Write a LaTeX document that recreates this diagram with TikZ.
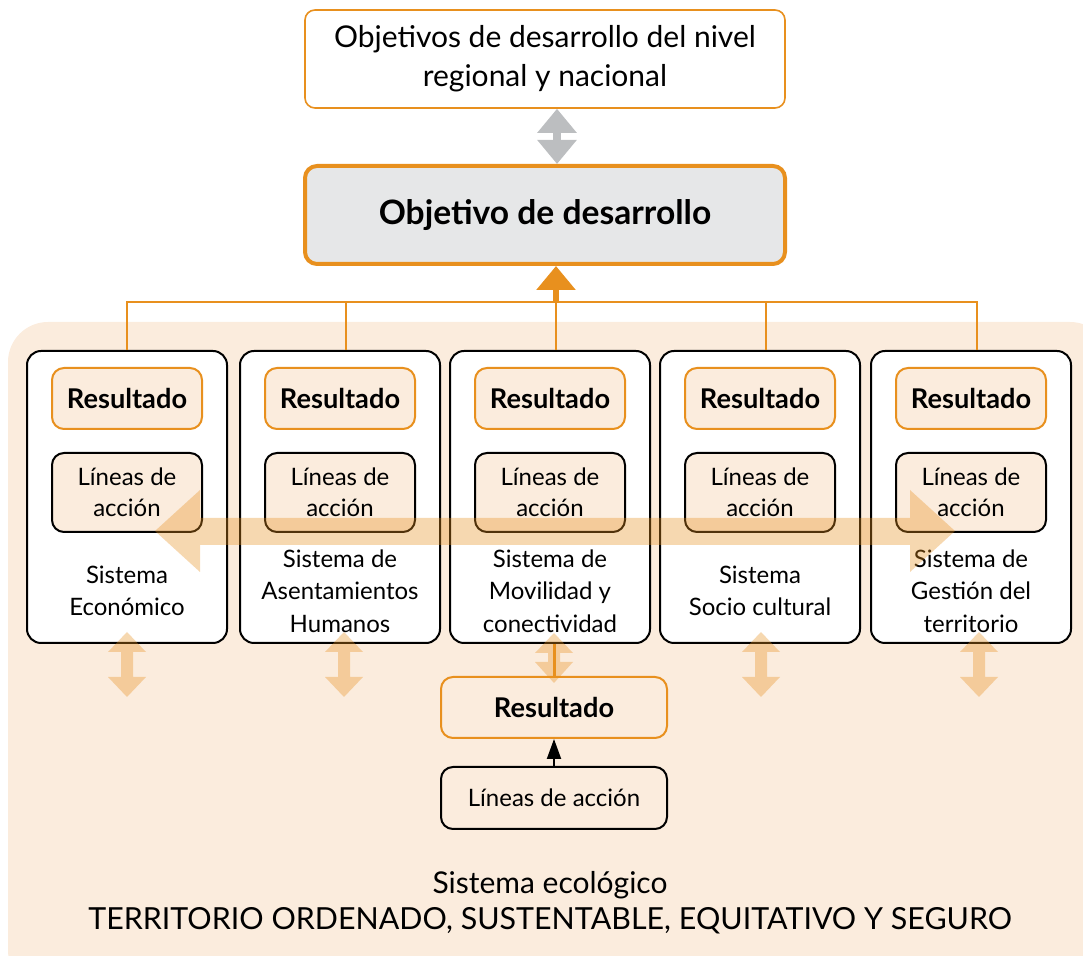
\documentclass[tikz,border=0pt]{standalone}
\usepackage{fontspec}
\setmainfont{Lato}
\usetikzlibrary{arrows.meta,positioning,calc}
\definecolor{naranja}{HTML}{E8901E}
\definecolor{crema}{HTML}{FBECDD}
\definecolor{grisclaro}{HTML}{E6E7E8}
\definecolor{gris}{HTML}{BCBEC0}
\tikzset{
  every picture/.style = {
    x = 0.5pt,
    y = -0.5pt,
    node distance = 11pt and 6pt,
  }
  ,
  objetivo/.style = {
    rectangle,
    rounded corners = 5pt,
    draw = naranja,
    line width = 0.8pt,
    fill = white,
    align = center,
    minimum width = 240pt,
    minimum height = 49pt,
    font = \fontsize{15}{19.5}\selectfont
  }
  , % box of the main goal
  objetivo-main/.style = {
    objetivo,
    rounded corners = 6pt,
    line width = 2pt,
    fill = grisclaro,
    font = \bfseries\fontsize{16.8}{20}\selectfont
  }
  ,
  sistema/.style = {
    rectangle,
    rounded corners = 7pt,
    draw,
    line width = 1pt,
    fill = white,
    minimum width = 100pt,
    minimum height = 146pt
  }
  ,
  resultado/.style = {
    rectangle,
    rounded corners = 6pt,
    draw = naranja,
    line width = 1pt,
    fill = crema,
    minimum width = 75pt,
    minimum height = 30.5pt,
    inner sep = 0pt,
    font = \bfseries\fontsize{13.6}{16}\selectfont
  }
  ,
  lineas/.style = {
    rectangle,
    rounded corners = 6pt,
    draw,
    line width = 1pt,
    fill = crema,
    align = center,
    minimum width = 75pt,
    minimum height = 39.5pt,
    inner sep = 0pt,
    font = \fontsize{12}{15.5}\selectfont
  }
  , % names of the systems
  label-sistema/.style = {
    align = center,
    font = \fontsize{12}{16.25}\selectfont
  }
  ,
  tenue/.style = {
    fill = naranja,
    fill opacity = 0.35
  }
}

\begin{document}
\begin{tikzpicture}
    \useasboundingbox (0,0) rectangle (1083,956);
    % background of the ecological system
    \fill[crema, rounded corners=20pt] (8,322) rectangle (1110,990);

    \node [objetivo] (top) at (545,59) {Objetivos de desarrollo del nivel\\regional y nacional};
    \node [objetivo-main] (main) at (545,215) {Objetivo de desarrollo};
    \draw [gris, line width=4pt, {Triangle[width=19pt,length=12pt]}-{Triangle[width=19pt,length=12pt]}]
        ([xshift=6pt]top.south) -- ([xshift=6pt]main.north);

    \coordinate (fila) at (0,591);
    \foreach \i/\x/\texto in {1/127/{Sistema\\Económico},
                            2/340/{Sistema de\\Asentamientos\\Humanos},
                            3/550/{Sistema de\\Movilidad y\\conectividad},
                            4/760/{Sistema\\Socio cultural},
                            5/971/{Sistema de\\Gestión del\\territorio}} {
        \node [sistema] (c\i) at (\x,497) {};
        \node [resultado, below = 8.5pt of c\i.north] (r\i) {Resultado};
        \node [lineas, below = 11pt of r\i] (l\i) {Líneas de\\acción};
        \node [label-sistema] (s\i) at (c\i |- fila) {\texto};
    }

    % lines to the main goal
    \coordinate (bus) at (557,302);
    \draw [naranja, line width=1pt] (c1.north) -- (c1.north |- bus) -- ([xshift=3pt]c5.north |- bus) -- ([xshift=3pt]c5.north);
    \foreach \i in {2,3,4}
        \draw [naranja, line width=1pt] ([xshift=3pt]c\i.north) -- ([xshift=3pt]c\i.north |- bus);
    \draw [naranja, line width=3pt, -{Triangle[width=19pt,length=12pt]}] ([xshift=3pt]c3.north |- bus) -- ([xshift=3pt]c3.north |- main.south);

    % wide arrow across the systems
    \fill [tenue] (155,531) -- (200,490) -- (200,518) -- (910,518) -- (910,490) -- (955,531)
        -- (910,572) -- (910,545) -- (200,545) -- (200,572) -- cycle;

    \foreach \x in {127,344,761,979}
        \fill [tenue, shift={(\x,665)}] (0,-33) -- (19,-13) -- (6,-13) -- (6,12) -- (19,12) -- (0,32)
            -- (-19,12) -- (-6,12) -- (-6,-13) -- (-19,-13) -- cycle;

    \node [resultado, minimum width=113pt] (rb) at (554,707.5) {Resultado};
    \node [lineas, minimum width=113pt, minimum height=31pt] (lb) at (554,798) {Líneas de acción};
    \draw [naranja, line width=1.5pt] (rb.north |- c3.south) -- (rb.north);
    \fill [tenue, shift={(554,658)}] (0,-25) -- (19,-5) -- (6,-5) -- (6,4) -- (19,4) -- (0,25)
        -- (-19,4) -- (-6,4) -- (-6,-5) -- (-19,-5) -- cycle;
    \draw [line width=1pt, -{Triangle[width=7pt,length=10pt]}] (lb) -- (rb);

    \node [font=\fontsize{15}{18}\selectfont] (eco) at (550,885) {Sistema ecológico};
    \node [font=\fontsize{15.2}{18}\selectfont] (lema) at (550,921) {TERRITORIO ORDENADO, SUSTENTABLE, EQUITATIVO Y SEGURO};
\end{tikzpicture}
\end{document}
